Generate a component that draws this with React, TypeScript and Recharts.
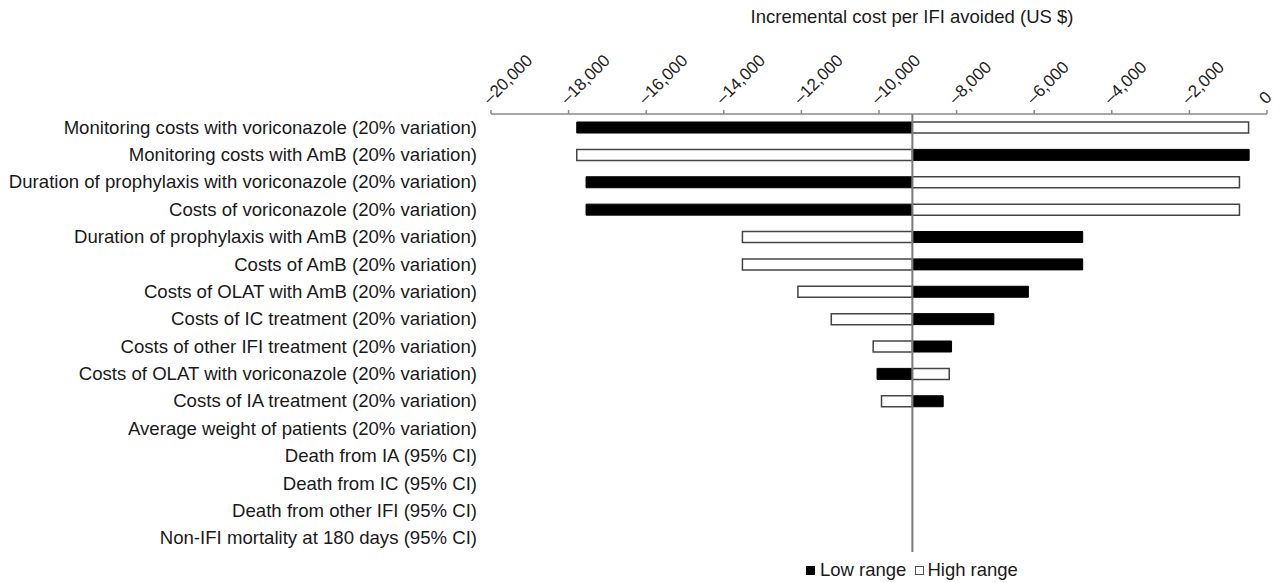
import React from 'react';
import { BarChart, Bar, XAxis, YAxis, ReferenceLine } from 'recharts';

const categories: string[] = [
  'Monitoring costs with voriconazole (20% variation)',
  'Monitoring costs with AmB (20% variation)',
  'Duration of prophylaxis with voriconazole (20% variation)',
  'Costs of voriconazole (20% variation)',
  'Duration of prophylaxis with AmB (20% variation)',
  'Costs of AmB (20% variation)',
  'Costs of OLAT with AmB (20% variation)',
  'Costs of IC treatment (20% variation)',
  'Costs of other IFI treatment (20% variation)',
  'Costs of OLAT with voriconazole (20% variation)',
  'Costs of IA treatment (20% variation)',
  'Average weight of patients (20% variation)',
  'Death from IA (95% CI)',
  'Death from IC (95% CI)',
  'Death from other IFI (95% CI)',
  'Non-IFI mortality at 180 days (95% CI)',
];

const lowRange: (number | null)[] = [
  -17790, -460, -17550, -17550, -4750, -4750, -6150, -7040, -8130, -10050, -8345,
  null, null, null, null, null,
];

const highRange: (number | null)[] = [
  -475, -17790, -710, -710, -13520, -13520, -12090, -11230, -10150, -8190, -9935,
  null, null, null, null, null,
];

const baseValue = -9140;

const xTicks: number[] = [-20000, -18000, -16000, -14000, -12000, -10000, -8000, -6000, -4000, -2000, 0];

const xTitle = 'Incremental cost per IFI avoided (US $)';
const legendLow = 'Low range';
const legendHigh = 'High range';

const FONT = '"Liberation Sans", Arial, Helvetica, sans-serif';

const data = categories.map((name, i) => ({ name, low: lowRange[i], high: highRange[i] }));

const rangeOf = (v: number | null) =>
  v == null ? null : [Math.min(baseValue, v), Math.max(baseValue, v)];

const fmt = (n: number) => (n === 0 ? '0' : (n < 0 ? '\u2013' : '') + Math.abs(n).toLocaleString('en-US'));

const XTick = (props: any) => {
  const { x, y, payload } = props;
  return (
    <text
      transform={`translate(${x - 1},${y - 3}) rotate(-45)`}
      textAnchor="start"
      fontSize={17}
      fontFamily={FONT}
      fill="#222"
    >
      {fmt(payload.value)}
    </text>
  );
};

const YTick = (props: any) => {
  const { x, y, payload } = props;
  return (
    <text x={x} y={y} dy={6} textAnchor="end" fontSize={18.6} fontFamily={FONT} fill="#1a1a1a">
      {payload.value}
    </text>
  );
};

export default function App() {
  return (
    <div style={{ position: 'absolute', left: 0, top: 0, width: 1280, height: 583, background: '#fff', fontFamily: FONT }}>
      <BarChart
        width={1280}
        height={583}
        data={data}
        layout="vertical"
        margin={{ top: 0, right: 13, bottom: 31, left: 0 }}
        barSize={11}
        barGap={-11}
      >
        <XAxis
          type="number"
          orientation="top"
          domain={[-20000, 0]}
          ticks={xTicks}
          allowDataOverflow
          height={114}
          tick={<XTick />}
          tickSize={4}
          tickMargin={2}
          axisLine={{ stroke: '#8a8a8a', strokeWidth: 1.5 }}
          tickLine={{ stroke: '#8a8a8a', strokeWidth: 1.5 }}
          interval={0}
        />
        <YAxis
          type="category"
          dataKey="name"
          width={491}
          axisLine={false}
          tickLine={false}
          tickSize={0}
          tickMargin={14}
          interval={0}
          tick={<YTick />}
        />
        <Bar
          dataKey={(d: any) => rangeOf(d.low)}
          name={legendLow}
          fill="#000"
          stroke="#000"
          strokeWidth={1}
          isAnimationActive={false}
        />
        <Bar
          dataKey={(d: any) => rangeOf(d.high)}
          name={legendHigh}
          fill="#fff"
          stroke="#444"
          strokeWidth={1.5}
          isAnimationActive={false}
        />
        <ReferenceLine x={baseValue} stroke="#7a7a7a" strokeWidth={2} />
      </BarChart>
      <div
        style={{
          position: 'absolute',
          left: 0,
          width: 1824,
          top: 6,
          textAlign: 'center',
          fontSize: 18.5,
          color: '#1a1a1a',
          whiteSpace: 'nowrap',
        }}
      >
        {xTitle}
      </div>
      <div
        style={{
          position: 'absolute',
          left: 806,
          top: 558,
          display: 'flex',
          alignItems: 'center',
          fontSize: 18.5,
          color: '#1a1a1a',
          whiteSpace: 'nowrap',
          lineHeight: '24px',
        }}
      >
        <span style={{ display: 'inline-block', width: 9, height: 9, background: '#000', marginRight: 5 }} />
        <span>{legendLow}</span>
        <span
          style={{
            display: 'inline-block',
            width: 7,
            height: 7,
            background: '#fff',
            border: '1.5px solid #555',
            marginLeft: 9,
            marginRight: 3,
          }}
        />
        <span>{legendHigh}</span>
      </div>
    </div>
  );
}
